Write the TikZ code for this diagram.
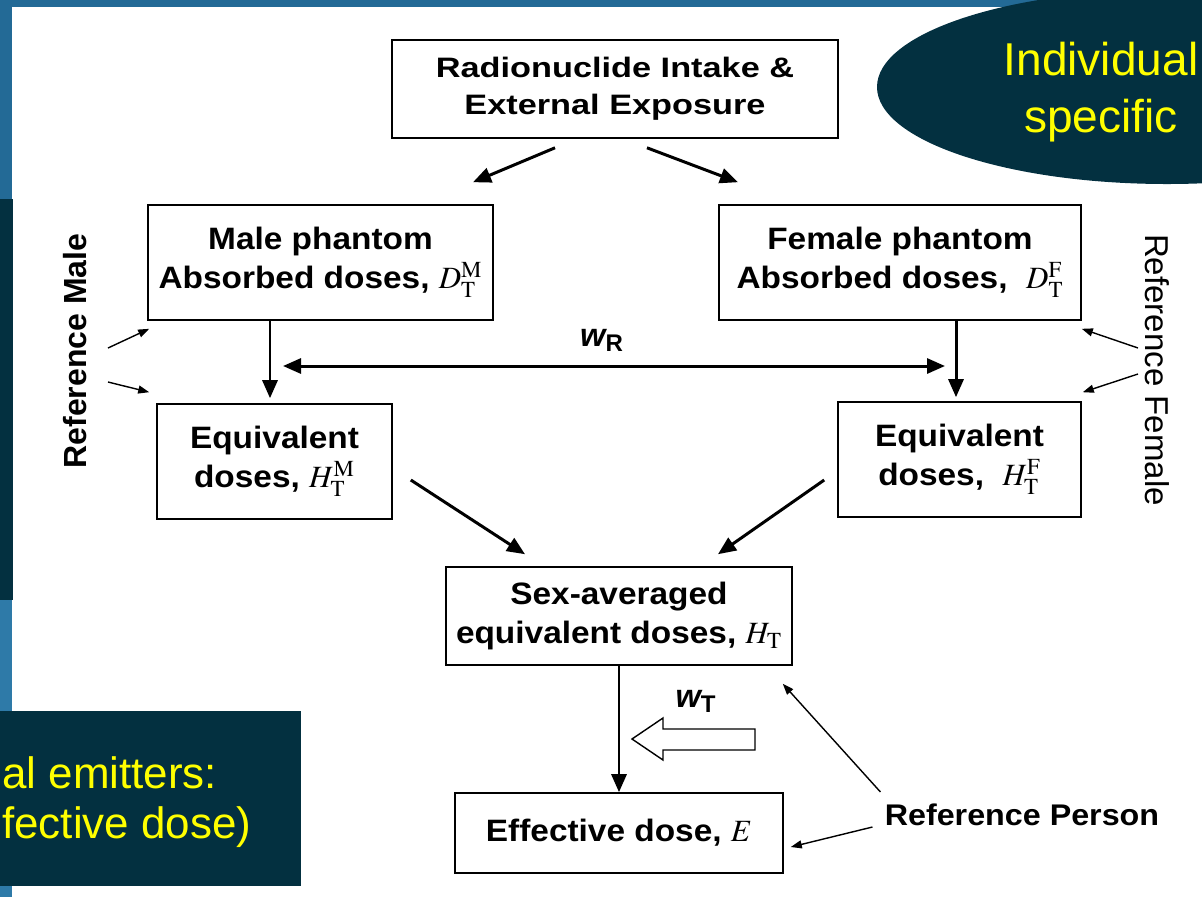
\documentclass[tikz,border=0pt]{standalone}
\usepackage{mathptmx}
\usepackage{fontspec}
\setmainfont{Liberation Sans}
\newfontfamily\boxfont[FakeStretch=1.08]{Liberation Sans}
\newfontfamily\widefont[FakeStretch=1.22]{Liberation Sans}
\usetikzlibrary{arrows.meta,calc}

\definecolor{slideblue}{RGB}{35,106,150}
\definecolor{stripblue}{RGB}{46,122,168}
\definecolor{darkteal}{RGB}{3,48,64}
\definecolor{hiyellow}{RGB}{255,255,0}

\tikzset{
    dose box/.style={
        draw,line width=0.9pt,align=center,inner sep=0pt,
        font=\boxfont\bfseries\fontsize{17.6}{22.2}\selectfont
    },
    ref label/.style={inner sep=0pt,font=\fontsize{18.8}{20}\selectfont},
    weight label/.style={inner sep=0pt,anchor=base,font=\bfseries\fontsize{18.5}{20}\selectfont},
    callout/.style={text=hiyellow,align=center,inner sep=0pt,
        font=\fontsize{26.2}{32.4}\selectfont},
    flow/.style={line width=1.7pt,-{Triangle[length=3.6mm,width=3mm]}},
    flow both/.style={line width=1.7pt,{Triangle[length=3.6mm,width=3mm]}-{Triangle[length=3.6mm,width=3mm]}},
    pointer/.style={line width=0.8pt,-{Triangle[length=2.2mm,width=1.6mm]}}
}

\begin{document}
\begin{tikzpicture}[x=0.2mm,y=-0.2mm]
    \useasboundingbox (0,0) rectangle (1202,897);
    \clip (0,0) rectangle (1202,897);
    % slide frame
    \fill[slideblue] (0,0) rectangle (1202,7);
    \fill[slideblue] (0,0) rectangle (12,200);
    \fill[stripblue] (0,600) rectangle (12,897);
    \fill[darkteal] (0,199) rectangle (13,600);
    \fill[darkteal] (1167,87) ellipse [x radius=58mm, y radius=19.4mm];
    \node[callout] (indiv) at (1101,92) {Individual\\specific};
    \fill[darkteal] (0,711) rectangle (301,886);
    \node[callout,font=\fontsize{25}{30}\selectfont,anchor=base west] (internal) at (2,788) {al emitters:};
    \node[callout,font=\fontsize{25}{30}\selectfont,anchor=base west] (committed) at (2,838) {fective dose)};
    % dose boxes
    \node[dose box,minimum width=89.2mm,minimum height=19.6mm,
        font=\widefont\bfseries\fontsize{16}{21}\selectfont] (intake) at (615,89)
        {Radionuclide Intake \&\\External Exposure};
    \node[dose box,minimum width=69mm,minimum height=23mm] (malePh) at (320.5,262.5)
        {Male phantom\\Absorbed doses, $D^{\mathrm{M}}_{\mathrm{T}}$};
    \node[dose box,minimum width=72.4mm,minimum height=23mm] (femPh) at (900,262.5)
        {Female phantom\\Absorbed doses, \ $D^{\mathrm{F}}_{\mathrm{T}}$};
    \node[dose box,minimum width=47mm,minimum height=23mm] (maleEq) at (274.5,461.5)
        {Equivalent\\doses, $H^{\mathrm{M}}_{\mathrm{T}}$};
    \node[dose box,minimum width=48.6mm,minimum height=23mm] (femEq) at (959.5,459.5)
        {Equivalent\\doses, \ $H^{\mathrm{F}}_{\mathrm{T}}$};
    \node[dose box,minimum width=69.2mm,minimum height=19.6mm] (avg) at (619,616)
        {Sex-averaged\\equivalent doses, $H_{\mathrm{T}}$};
    \node[dose box,minimum width=65.6mm,minimum height=16mm] (eff) at (619,833)
        {Effective dose, $E$};
    % reference labels
    \node[ref label,font=\bfseries\fontsize{18.2}{20}\selectfont,rotate=90] (refMale) at (75,351) {Reference Male};
    \node[ref label,rotate=-90] (refFemale) at (1157,370) {Reference Female};
    \node[ref label,font=\boxfont\bfseries\fontsize{17}{20}\selectfont] (refPerson) at (1022,815) {Reference Person};
    % flow arrows
    \draw[flow] ($(intake.south)+(-60,9)$) -- ($(malePh.north)+(152.5,-22)$);
    \draw[flow] ($(intake.south)+(32,9)$) -- ($(femPh.north)+(-162,-22)$);
    \draw[flow] ($(malePh.south)+(-50.5,0)$) -- ($(maleEq.north)+(-4.5,-5)$);
    \draw[flow] ($(femPh.south)+(56,0)$) -- ($(femEq.north)+(-3.5,-4)$);
    \coordinate (wRleft) at (283,366);
    \coordinate (wRright) at (945,366);
    \draw[flow both] (wRleft) -- (wRright);
    \node[weight label] (wR) at (602,346) {\itshape w\textsubscript{\upshape R}};
    \draw[flow] ($(maleEq.east)+(18,18.5)$) -- ($(avg.north)+(-94,-12)$);
    \draw[flow] ($(femEq.west)+(-13,20.5)$) -- ($(avg.north)+(99,-12)$);
    \draw[flow] (avg.south) -- (eff.north);
    % tissue weighting
    \draw[line width=0.8pt,fill=white] (755,729) -- (663,729) -- (663,718) -- (632,739)
        -- (663,760) -- (663,750) -- (755,750) -- cycle;
    \node[weight label] (wT) at (696,707) {\itshape w\textsubscript{\upshape T}};
    % pointers from the reference labels
    \draw[pointer] ($(refMale)+(33,-3)$) -- ($(malePh.south west)+(2,8)$);
    \draw[pointer] ($(refMale)+(33,31)$) -- ($(maleEq.north west)+(-7,-11)$);
    \draw[pointer] ($(refFemale)+(-19,-22)$) -- ($(femPh.south east)+(0,8)$);
    \draw[pointer] ($(refFemale)+(-19,4)$) -- ($(femEq.north east)+(1,-9)$);
    \draw[pointer] ($(refPerson.west)+(-4,-23)$) -- ($(avg.south east)+(-10,18)$);
    \draw[pointer] ($(refPerson.west)+(-12,12)$) -- ($(eff.east)+(7,14)$);
\end{tikzpicture}
\end{document}
